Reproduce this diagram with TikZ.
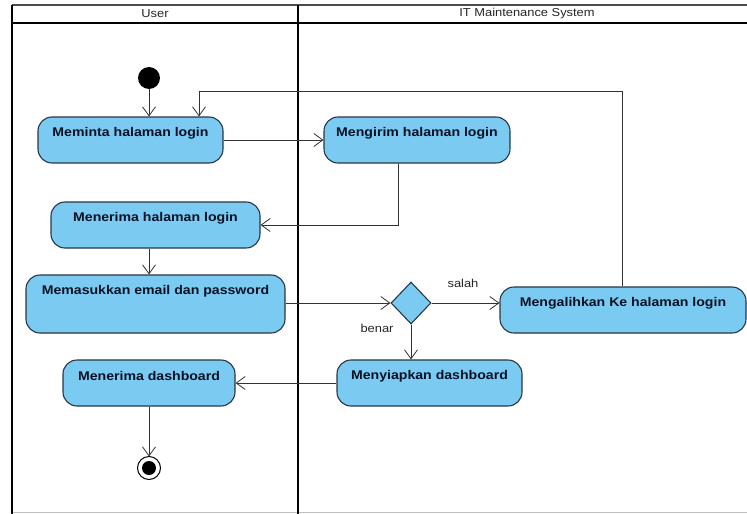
\documentclass[tikz,border=0pt]{standalone}
\usepackage{fontspec}
\setmainfont{Liberation Sans}[FakeStretch=1.12]
\usetikzlibrary{arrows.meta,shapes.geometric,calc}
\definecolor{actfill}{RGB}{122,202,242}
\definecolor{actline}{RGB}{40,55,70}
\definecolor{acttxt}{RGB}{8,16,36}
\definecolor{flow}{RGB}{50,50,50}
\tikzset{
  act/.style={draw=actline, fill=actfill, line width=1.1pt, rounded corners=14pt},
  acttext/.style={font=\bfseries\fontsize{12.6}{14}\selectfont, text=acttxt, anchor=center},
  flowline/.style={draw=flow, line width=0.8pt, -{Straight Barb[length=9pt,width=13pt,line width=0.8pt]}},
  lane/.style={draw=black, line width=2.2pt},
  guard/.style={font=\fontsize{11.5}{13}\selectfont, text=black!85}
}
\newcommand{\actnode}[6]{%
  \node[act, minimum width=#3, minimum height=#4, inner sep=0pt,
        label={[acttext, yshift=-17pt]north:#6}] (#5) at (#1,#2) {};}
\begin{document}
\begin{tikzpicture}[x=1pt,y=-1pt]
\useasboundingbox (0,0) rectangle (747,514);
\fill[white] (0,0) rectangle (747,514);

% swimlane frame
\draw[black!70, line width=1.2pt] (12,5) -- (760,5);
\draw[black!25, line width=0.8pt] (12,512) -- (760,512);
\draw[lane] (12,5) -- (12,514);
\draw[lane] (298,5) -- (298,514);
\draw[black, line width=1.8pt] (12,23) -- (760,23);
\node[guard] (laneU) at (155,14) {User};
\node[guard] (laneS) at (527,14) {IT Maintenance System};

% start and end
\fill[black] (149,78) circle (11pt);
\coordinate (startB) at (149,89);
\draw[black, line width=1pt, fill=white] (149,468) circle (11.5pt);
\fill[black] (149,468) circle (7pt);
\coordinate (endT) at (149,456.5);

% activities
\actnode{130.5}{140}{185pt}{46pt}{a}{Meminta halaman login}
\actnode{417}{140}{186pt}{46pt}{b}{Mengirim halaman login}
\actnode{155.5}{225}{209pt}{46pt}{c}{Menerima halaman login}
\actnode{155.5}{304}{259pt}{58pt}{d}{Memasukkan email dan password}
\actnode{623}{310}{246pt}{46pt}{g}{Mengalihkan Ke halaman login}
\actnode{429.5}{383}{185pt}{46pt}{e}{Menyiapkan dashboard}
\actnode{149}{383}{172pt}{46pt}{f}{Menerima dashboard}

% decision
\node[diamond, draw=actline, fill=actfill, line width=1.1pt, minimum width=40pt,
      minimum height=42pt, inner sep=0pt] (dec) at (411,303) {};

% flows
\draw[flowline] (startB) -- (startB |- a.north);
\coordinate (ret) at (199,91);
\draw[flowline] (g.north -| 622,0) |- (ret) -- (ret |- a.north);
\draw[flowline] (a.east) -- (b.west);
\draw[flowline] (b.south -| 398,0) |- (c.east);
\draw[flowline] (c.south -| 149,0) -- (d.north -| 149,0);
\draw[flowline] (d.east |- dec.west) -- (dec.west);
\draw[flowline] (dec.east) -- (g.west |- dec.east);
\draw[flowline] (dec.south) -- (e.north -| dec.south);
\node[guard] (salah) at (463,283) {salah};
\node[guard] (benar) at (377,328) {benar};
\draw[flowline] (e.west) -- (f.east);
\draw[flowline] (f.south) -- (endT);
\end{tikzpicture}
\end{document}
